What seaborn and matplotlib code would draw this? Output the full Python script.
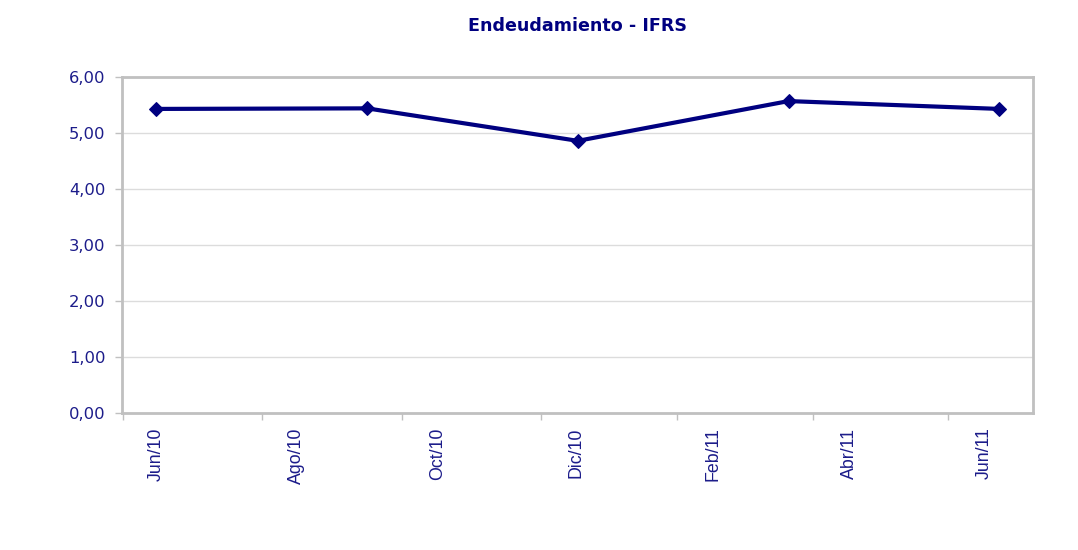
import matplotlib
matplotlib.use("Agg")
import matplotlib.pyplot as plt
import seaborn as sns
import pandas as pd
from matplotlib.ticker import FuncFormatter, FixedLocator

# Data
periods = ["Jun/10", "Sep/10", "Dic/10", "Mar/11", "Jun/11"]
month_index = [0, 3, 6, 9, 12]
values = [5.43, 5.44, 4.86, 5.57, 5.43]

tick_labels = ["Jun/10", "Ago/10", "Oct/10", "Dic/10", "Feb/11", "Abr/11", "Jun/11"]
label_positions = [0.0, 2.0, 4.0, 5.97, 7.92, 9.86, 11.78]
boundary_positions = [-0.48, 1.51, 3.5, 5.48, 7.41, 9.35, 11.27]

df = pd.DataFrame({"periodo": periods, "mes": month_index, "valor": values})

sns.set_theme(style="white")
plt.rcParams['font.family'] = ['DejaVu Sans']

text_color = "#1c1c8a"
line_color = "#000080"

fig = plt.figure(figsize=(10.78, 5.5), dpi=100)
ax = fig.add_axes([122/1078, 1-413/550, (1033-122)/1078, (413-77)/550])

sns.lineplot(data=df, x="mes", y="valor", ax=ax, color=line_color, linewidth=3,
             marker="D", markersize=7, markeredgecolor=line_color, markerfacecolor=line_color)

ax.set_xlim(-0.49, 12.48)
ax.set_ylim(0, 6)
ax.set_yticks([0, 1, 2, 3, 4, 5, 6])
ax.yaxis.set_major_formatter(FuncFormatter(lambda v, p: f"{v:.2f}".replace(".", ",")))
ax.grid(axis="y", color="#dcdcdc", linewidth=1)
ax.set_axisbelow(True)

ax.xaxis.set_major_locator(FixedLocator(label_positions))
ax.set_xticklabels(tick_labels, rotation=90, color=text_color, fontsize=12.8,
                   family=["Liberation Sans", "DejaVu Sans"])
ax.xaxis.set_minor_locator(FixedLocator(boundary_positions))
ax.tick_params(axis="x", which="major", length=0, pad=10.5)
ax.tick_params(axis="x", which="minor", length=5, color="#c0c0c0", width=1, bottom=True)
ax.tick_params(axis="y", length=5, color="#c0c0c0", width=1, left=True, pad=7,
               labelcolor=text_color, labelsize=11.8)

for s in ax.spines.values():
    s.set_color("#c0c0c0")
    s.set_linewidth(2)

ax.set_xlabel("")
ax.set_ylabel("")
fig.text(577/1078, 1-26/550, "Endeudamiento - IFRS", ha="center", va="center",
         fontsize=12.6, fontweight="bold", color=line_color)

fig.savefig("out.png", dpi=100, facecolor="white")
